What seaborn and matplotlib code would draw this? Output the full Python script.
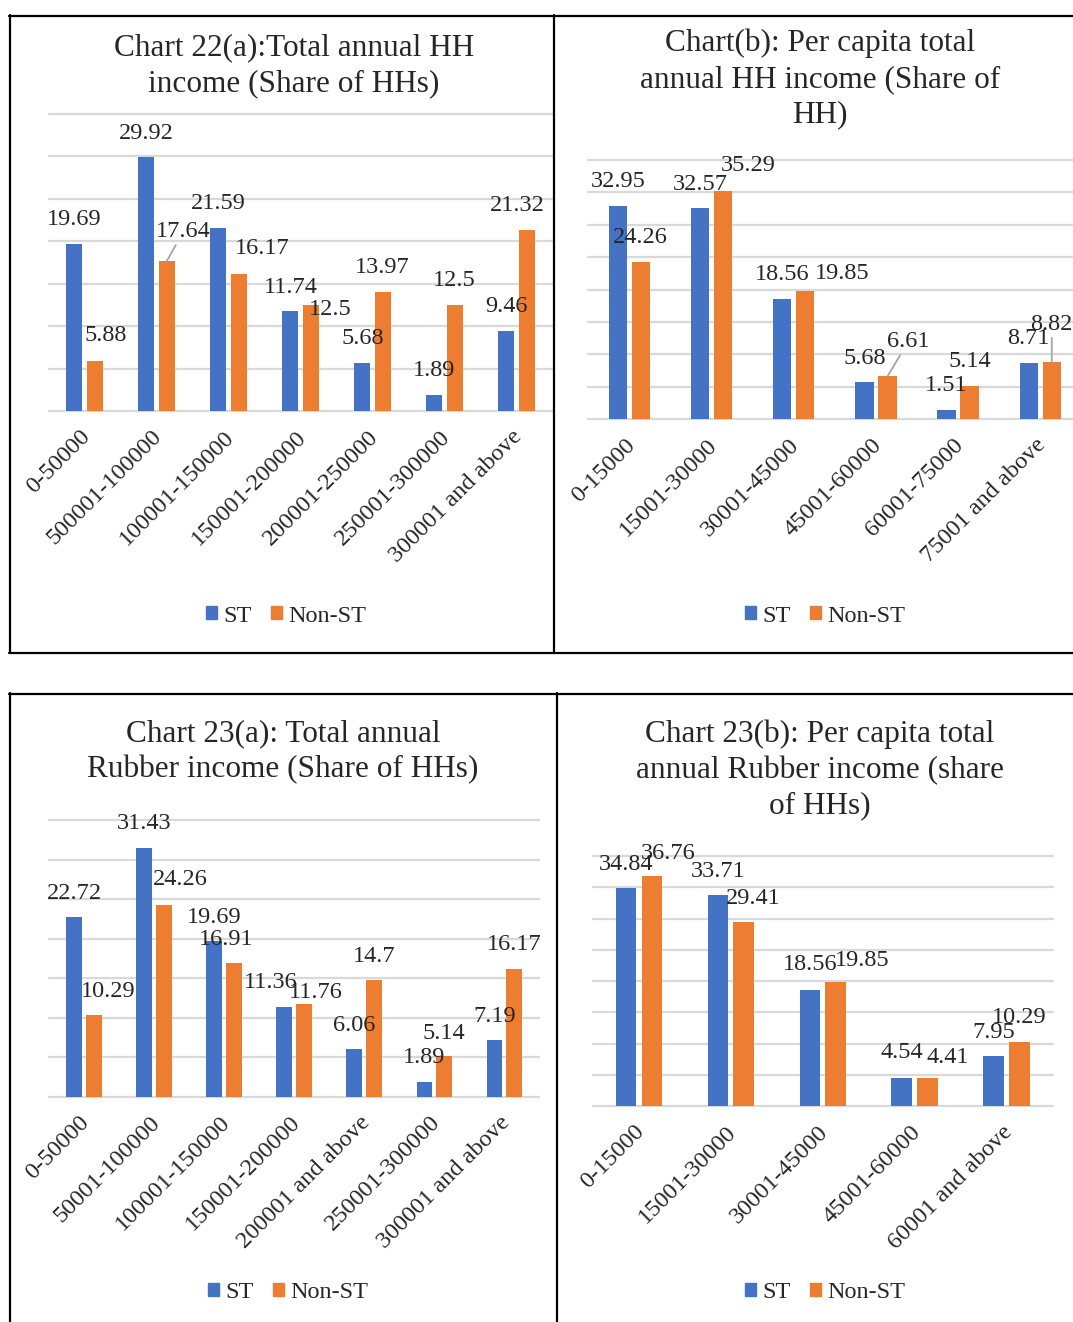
import matplotlib
matplotlib.use("Agg")
import matplotlib.pyplot as plt
import matplotlib.transforms as mtransforms
from matplotlib.patches import Patch
from matplotlib.lines import Line2D
import pandas as pd
import seaborn as sns

W, H = 1073, 1322
BLUE = '#4472C4'
ORANGE = '#ED7D31'
GRID = '#D9D9D9'
SERIES = ['ST', 'Non-ST']

# Chart 22(a): total annual HH income
cats_22a = ['0-50000', '500001-100000', '100001-150000', '150001-200000',
            '200001-250000', '250001-300000', '300001 and above']
st_22a = [19.69, 29.92, 21.59, 11.74, 5.68, 1.89, 9.46]
nonst_22a = [5.88, 17.64, 16.17, 12.5, 13.97, 12.5, 21.32]

# Chart (b): per capita total annual HH income
cats_22b = ['0-15000', '15001-30000', '30001-45000', '45001-60000',
            '60001-75000', '75001 and above']
st_22b = [32.95, 32.57, 18.56, 5.68, 1.51, 8.71]
nonst_22b = [24.26, 35.29, 19.85, 6.61, 5.14, 8.82]

# Chart 23(a): total annual rubber income
cats_23a = ['0-50000', '50001-100000', '100001-150000', '150001-200000',
            '200001 and above', '250001-300000', '300001 and above']
st_23a = [22.72, 31.43, 19.69, 11.36, 6.06, 1.89, 7.19]
nonst_23a = [10.29, 24.26, 16.91, 11.76, 14.7, 5.14, 16.17]

# Chart 23(b): per capita total annual rubber income
cats_23b = ['0-15000', '15001-30000', '30001-45000', '45001-60000', '60001 and above']
st_23b = [34.84, 33.71, 18.56, 4.54, 7.95]
nonst_23b = [36.76, 29.41, 19.85, 4.41, 10.29]

# label offsets (pixels, dx and rise above the bar top), like Excel's nudged labels
off_st_22a = [(0, 24)] * 7
off_non_22a = [(11, 26), (17, 30), (24, 25), (20, -5), (0, 25), (0, 24), (-9, 25)]
off_st_22b = [(0, 24)] * 6
off_non_22b = [(0, 25), (25, 25), (37, 17), (21, 35), (0, 24), (0, 38)]
off_st_23a = [(0, 24), (0, 25), (0, 24), (-14, 24), (0, 23), (0, 24), (0, 23)]
off_non_23a = [(14, 24), (16, 25), (-8, 24), (12, 11), (0, 24), (0, 23), (0, 24)]
off_st_23b = [(0, 24), (0, 24), (0, 25), (0, 25), (0, 24)]
off_non_23b = [(16, 23), (10, 24), (27, 21), (20, 21), (0, 24)]

LABEL_FS = 17.5
TITLE_FS = 22.5

sns.set_style("white")
plt.rcParams['font.family'] = ['Liberation Serif', 'DejaVu Serif']

fig = plt.figure(figsize=(W / 100, H / 100), dpi=100)


def px_axes(left, top, right, bottom):
    return fig.add_axes([left / W, 1 - bottom / H, (right - left) / W, (bottom - top) / H])


def fig_line(x0, y0, x1, y1):
    fig.add_artist(Line2D([x0 / W, x1 / W], [1 - y0 / H, 1 - y1 / H],
                          color='black', lw=1.6, transform=fig.transFigure))


def draw_panel(ax, cats, st, nonst, ymax, off_st, off_non, leaders,
               title, title_xy, legend_xy):
    df = pd.DataFrame({
        'cat': cats * 2,
        'val': st + nonst,
        'group': ['ST'] * len(cats) + ['Non-ST'] * len(cats),
    })
    sns.barplot(data=df, x='cat', y='val', hue='group', order=cats, hue_order=SERIES,
                palette=[BLUE, ORANGE], saturation=1, width=0.56, gap=0.2,
                errorbar=None, legend=False, linewidth=0, ax=ax)
    ax.set_xlim(-0.5, len(cats) - 0.5)
    ax.set_ylim(0, ymax)
    ax.set_yticks(range(0, ymax + 1, 5))
    ax.yaxis.grid(True, color=GRID, lw=1.6)
    for ln in ax.get_ygridlines():
        ln.set_clip_on(False)
    ax.set_axisbelow(True)
    ax.tick_params(axis='y', left=False, labelleft=False)
    ax.tick_params(axis='x', length=0, pad=11, labelsize=LABEL_FS)
    shift = mtransforms.ScaledTranslation(-5 / 100, 0, fig.dpi_scale_trans)
    for lab in ax.get_xticklabels():
        lab.set_rotation(45)
        lab.set_ha('right')
        lab.set_va('top')
        lab.set_rotation_mode('anchor')
        lab.set_transform(lab.get_transform() + shift)
    ax.set_xlabel('')
    ax.set_ylabel('')
    for s in ax.spines.values():
        s.set_visible(False)

    for k, (cont, vals, offs) in enumerate(zip(ax.containers, [st, nonst], [off_st, off_non])):
        for i, (bar, v, (dx, dy)) in enumerate(zip(cont.patches, vals, offs)):
            xc = bar.get_x() + bar.get_width() / 2
            arrow = None
            if k == 1 and i in leaders:
                arrow = dict(arrowstyle='-', color='#A6A6A6', lw=1.3,
                             shrinkA=0, shrinkB=0)
            ax.annotate(f'{v:g}', xy=(xc, bar.get_height()), xytext=(dx, dy),
                        textcoords='offset pixels', ha='center', va='center',
                        fontsize=LABEL_FS, arrowprops=arrow, annotation_clip=False)

    fig.text(title_xy[0] / W, 1 - title_xy[1] / H, title, ha='center', va='center',
             fontsize=TITLE_FS, linespacing=1.3)
    handles = [Patch(color=BLUE, label='ST'), Patch(color=ORANGE, label='Non-ST')]
    fig.legend(handles=handles, loc='center',
               bbox_to_anchor=(legend_xy[0] / W, 1 - legend_xy[1] / H),
               ncol=2, frameon=False, fontsize=LABEL_FS, handlelength=0.45,
               handleheight=0.45, handletextpad=0.25, columnspacing=0.8)


ax1 = px_axes(48.5, 114, 552.5, 411)
draw_panel(ax1, cats_22a, st_22a, nonst_22a, 35, off_st_22a, off_non_22a, [1],
           'Chart 22(a):Total annual HH\nincome (Share of HHs)', (294, 66), (286, 616))

ax2 = px_axes(588.2, 160, 1081.4, 419.3)
draw_panel(ax2, cats_22b, st_22b, nonst_22b, 40, off_st_22b, off_non_22b, [3, 5],
           'Chart(b): Per capita total\nannual HH income (Share of\nHH)', (820, 79), (825, 616))

ax3 = px_axes(49, 820, 539.2, 1096.7)
draw_panel(ax3, cats_23a, st_23a, nonst_23a, 35, off_st_23a, off_non_23a, [],
           'Chart 23(a): Total annual\nRubber income (Share of HHs)', (283, 751.5), (288, 1293))

ax4 = px_axes(593, 856, 1052.5, 1106)
draw_panel(ax4, cats_23b, st_23b, nonst_23b, 40, off_st_23b, off_non_23b, [],
           'Chart 23(b): Per capita total\nannual Rubber income (share\nof HHs)', (820, 770), (825, 1293))

# panel borders
fig_line(9, 15.5, 1073, 15.5)
fig_line(9, 653, 1073, 653)
fig_line(9.5, 15, 9.5, 653)
fig_line(554, 15, 554, 653)
fig_line(9, 693.5, 1073, 693.5)
fig_line(9.5, 693, 9.5, 1322)
fig_line(557, 693, 557, 1322)

fig.savefig('out.png', dpi=100)
